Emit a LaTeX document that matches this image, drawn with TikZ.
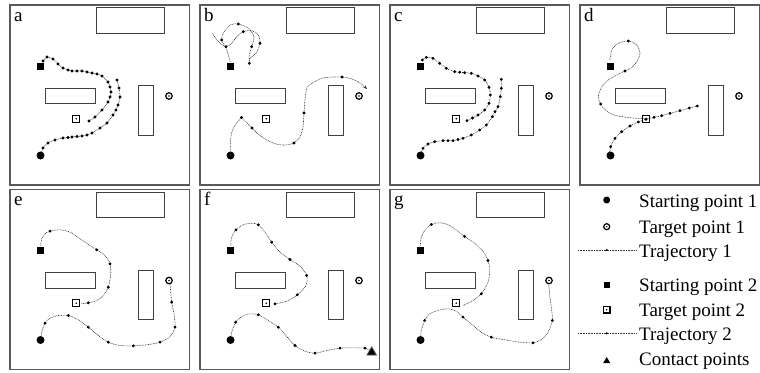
\documentclass[tikz,border=0pt]{standalone}
\usepackage{fontspec}
\setmainfont{Liberation Serif}
\usetikzlibrary{arrows.meta}

% the room of one panel: walls, obstacles, start and target points
\newcommand{\room}[1]{%
  \draw[wall] (0,0) rectangle (179.5,180);
  \node[tag] (lab#1) at (4,16) {#1};
  \draw[block] (86.5,2.5) rectangle (154.3,28.3);
  \draw[block] (35.5,83) rectangle (85.5,98.5);
  \draw[block] (128,80.5) rectangle (143.5,130);
  \node[startone] (s1#1) at (30.5,150.5) {};
  \node[starttwo] (s2#1) at (30.5,61) {};
  \node[goalone] (g1#1) at (159,91) {};
  \node[goaltwo] (g2#1) at (66.3,113.7) {};
  \fill (g1#1.center) circle (0.9);
  \fill (g2#1.center) circle (0.9);
}

\begin{document}
\begin{tikzpicture}[x=1pt,y=-1pt,
  wall/.style={draw=black!65,line width=1.1},
  block/.style={draw=black!75,line width=0.8},
  tag/.style={anchor=base west,inner sep=0,font=\fontsize{19}{22}\selectfont},
  txt/.style={anchor=base west,inner sep=0,font=\fontsize{19}{22}\selectfont},
  startone/.style={circle,fill,inner sep=0,minimum size=8},
  starttwo/.style={rectangle,fill,inner sep=0,minimum size=7},
  goalone/.style={circle,draw,line width=1.2,inner sep=0,minimum size=6.5},
  goaltwo/.style={rectangle,draw,line width=1.2,inner sep=0,minimum size=7},
  trajline/.style={draw=black!80,line width=0.6,dash pattern=on 0.8pt off 0.8pt,
    mark=*,mark size=1.1pt,mark options={solid,fill=black,draw=black}}]

\useasboundingbox (0,0) rectangle (760,372);

% panel a
\begin{scope}[shift={(10,5)}]
  \room{a}
  \draw[trajline] plot[smooth] coordinates {(33,56) (37,52) (43,54) (48,59) (53,63) (58,65) (62,66) (67,66) (72,66) (77,67) (82,68) (87,69) (92,71) (98,77) (100,82) (101,87) (100,92) (98,97) (92,105) (85,112) (79,116)};
  \draw[trajline] plot[smooth] coordinates {(31,150) (33,143) (38,138) (45,135) (53,133) (58,132.5) (62,132) (67,131.5) (72,131) (77,130) (82,128) (90,123) (97,118) (103,110) (106,105) (108,100) (110,92) (109,83) (107,75)};
\end{scope}

% panel b
\begin{scope}[shift={(200,5)}]
  \room{b}
  \draw[trajline,mark indices={3,6,9,11,14,17,20}] plot[smooth] coordinates {(30.3,56.7) (26.7,45) (21.7,35) (23.3,28.3) (30,20) (38.3,19) (48.3,23.3) (54,31.7) (51.7,41.7) (49.3,50) (49.3,58.3) (50,53.3) (56,48.3) (60,38.3) (58.3,30) (51.7,25.7) (43.3,26.7) (36.7,31.7) (31.7,38.3) (26,41.7) (20,38.3) (15,32.3) (12.7,28.3)};
  \draw[trajline,mark=none] plot[smooth] coordinates {(30.5,150) (30.5,135) (32.5,125) (36.5,118) (41.5,112.5)};
  \draw[trajline,mark indices={1,3,8,11,17},-{Stealth[length=4pt]}] plot[smooth] coordinates {(41.5,112.5) (46,117) (52,123) (58,129) (67,135) (76,139) (85,140) (94,138) (100,132) (103,122) (104,108) (105,95) (107,83) (114,77) (123,73) (133,72) (142,72) (152,74) (160,78) (167,84)};
\end{scope}

% panel c
\begin{scope}[shift={(390,5)}]
  \room{c}
  \draw[trajline] plot[smooth] coordinates {(32.3,55) (36.3,52.3) (43,53.3) (49.7,58.3) (56.3,63.3) (64.7,66.7) (69.7,67.2) (74.7,67.7) (81.3,68.3) (88,71) (94.7,75) (99,82.3) (100.3,90) (99,98.3) (94.7,105) (88,110) (82.5,113) (77,115.7)};
  \draw[trajline] plot[smooth] coordinates {(30.3,150) (33,143.3) (38,139) (44.7,136.7) (53,135.7) (58,135.7) (63,135.7) (68,134.5) (73,133.3) (81.3,130) (89.7,125) (96.3,120) (102.3,111.7) (105,106.7) (108,101.7) (110.3,91.7) (111.3,83.3) (111.3,74.3)};
\end{scope}

% panel d
\begin{scope}[shift={(580,5)}]
  \room{d}
  \draw[trajline,mark indices={4,9,14}] plot[smooth] coordinates {(30,55) (31.7,45) (38.3,38.3) (48.3,36) (56.7,40) (60,48.3) (56.7,56.7) (51.7,62.7) (45,66) (36.7,70) (27.3,75.7) (21,83.3) (18.3,91.7) (20.7,99) (26,105.7) (35,110.3) (46.7,112.3) (56.7,113.3) (66,113.3)};
  \draw[trajline] plot[smooth] coordinates {(29.3,150) (30.7,141.7) (35,133.3) (41.7,126.7) (50,121) (58.3,117) (66,114.3) (74,112.3) (81.7,110.7) (90,108.3) (100,105.7) (109.3,103) (117.3,101)};
\end{scope}

% panel e
\begin{scope}[shift={(10,189.5)}]
  \room{e}
  \draw[trajline,mark indices={4,9,11,13,16}] plot[smooth] coordinates {(30.7,56) (31.7,49.3) (35,44.3) (40,41.7) (50,40.3) (60,42.7) (70,49.3) (80,56) (86.7,60.3) (95,66) (100,74.3) (100.7,84.3) (98.3,97.7) (93.3,106) (86.7,111) (78.3,113.3) (71.7,114.3)};
  \draw[trajline,mark indices={3,6,8,10,12,14,16,18}] plot[smooth] coordinates {(30.7,151) (31.7,142.7) (35,133.7) (40,128.7) (48.3,126) (58.3,126) (68.3,130.3) (78.3,137.7) (88.3,146) (98.3,152.7) (110,156) (123.3,156.3) (136.7,155.3) (150,152.7) (160,147) (165,137.7) (164,124.3) (161.7,112.7) (160,94.3)};
\end{scope}

% panel f
\begin{scope}[shift={(200,189.5)}]
  \room{f}
  \draw[trajline,mark indices={3,6,8,10,12,14,16}] plot[smooth] coordinates {(30.7,56) (31.7,47.7) (36,40.3) (43.3,35.3) (51.7,33.7) (58.3,35.3) (65,42.7) (71.7,52.7) (80,62.7) (90,70) (100,76.7) (106.7,86) (106,96) (97.3,105.3) (86.7,111.7) (75,114.3)};
  \draw[trajline,mark indices={3,6,8,10,12,14,16}] plot[smooth] coordinates {(30.7,151) (31.7,142.7) (35.7,132.7) (41.7,127) (50,124.3) (58.3,125.3) (68.3,131) (78.3,137.7) (86.7,147) (95,156) (105,161.7) (115,163.7) (126.7,161) (140,158.7) (153.3,158.3) (165,158.7) (171.7,161.7)};
  \fill[draw=black!70,line width=0.8] (167,165.5) -- (171.7,157.5) -- (176.4,165.5) -- cycle;
\end{scope}

% panel g
\begin{scope}[shift={(390,189.5)}]
  \room{g}
  \draw[trajline,mark indices={4,7,10,13}] plot[smooth] coordinates {(30.3,56) (31.3,47.7) (34.7,41) (41.3,35) (49.7,33.3) (59.7,36) (74.7,47) (84.7,53.7) (93,62) (98,71) (99.7,81) (98,92.7) (91.3,104.3) (83,111) (73,116)};
  \draw[trajline,mark indices={3,8,11,14,17}] plot[smooth] coordinates {(30.3,151) (31.3,141) (34.7,131) (39.7,124.3) (48,121) (58,119.3) (66.3,121.7) (73,127.7) (81.3,134.3) (91.3,142.7) (101.3,147.7) (114.7,150.3) (129.7,152.7) (143,153.3) (151.3,150) (158,142.7) (162.3,131) (161.3,117.7) (159.7,106) (158.7,94.3)};
\end{scope}

% legend
\node[startone,minimum size=7] (k1) at (606.7,200) {};
\node[txt] (t1) at (639,207.3) {Starting point 1};
\node[goalone,minimum size=6] (k2) at (606.7,226.7) {};
\fill (k2.center) circle (0.8);
\node[txt] (t2) at (639,233.3) {Target point 1};
\coordinate (l3a) at (578,250);
\coordinate (l3b) at (636,250);
\draw[trajline,mark=none] (l3a) -- (l3b);
\fill (606.7,250) circle (1.2);
\node[txt] (t3) at (639,257.3) {Trajectory 1};
\node[starttwo,minimum size=6] (k4) at (606.7,285) {};
\node[txt] (t4) at (639,291.7) {Starting point 2};
\node[goaltwo,minimum size=6.5] (k5) at (606.7,309.8) {};
\fill (k5.center) circle (0.8);
\node[txt] (t5) at (639,316.7) {Target point 2};
\coordinate (l6a) at (578,333.3);
\coordinate (l6b) at (636,333.3);
\draw[trajline,mark=none] (l6a) -- (l6b);
\fill (606.7,333.3) circle (1.2);
\node[txt] (t6) at (639,340) {Trajectory 2};
\fill (603.2,363) -- (606.7,357) -- (610.2,363) -- cycle;
\node[txt] (t7) at (639,365) {Contact points};

\end{tikzpicture}
\end{document}
